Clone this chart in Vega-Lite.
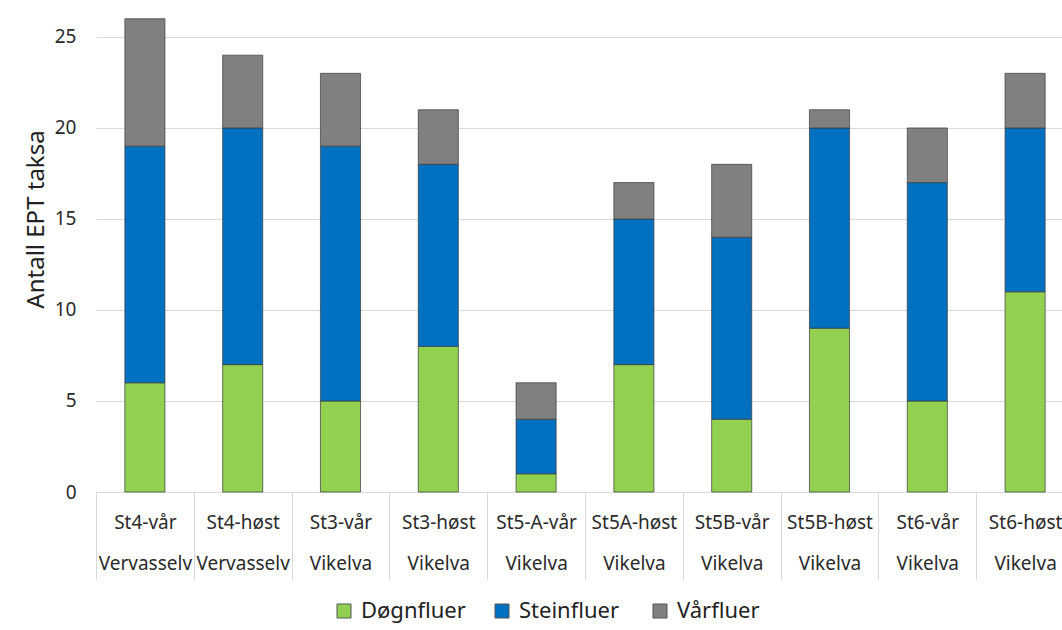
{
  "$schema": "https://vega.github.io/schema/vega-lite/v6.json",
  "autosize": "none",
  "width": 966,
  "height": 478,
  "padding": {"left": 96, "top": 14, "right": 0, "bottom": 138},
  "background": "white",
  "data": {
    "values": [
      {"cat": "St4-vår|Vervasselv", "idx": 1, "type": "Døgnfluer", "ord": 1, "value": 6},
      {"cat": "St4-vår|Vervasselv", "idx": 1, "type": "Steinfluer", "ord": 2, "value": 13},
      {"cat": "St4-vår|Vervasselv", "idx": 1, "type": "Vårfluer", "ord": 3, "value": 7},
      {"cat": "St4-høst|Vervasselv", "idx": 2, "type": "Døgnfluer", "ord": 1, "value": 7},
      {"cat": "St4-høst|Vervasselv", "idx": 2, "type": "Steinfluer", "ord": 2, "value": 13},
      {"cat": "St4-høst|Vervasselv", "idx": 2, "type": "Vårfluer", "ord": 3, "value": 4},
      {"cat": "St3-vår|Vikelva", "idx": 3, "type": "Døgnfluer", "ord": 1, "value": 5},
      {"cat": "St3-vår|Vikelva", "idx": 3, "type": "Steinfluer", "ord": 2, "value": 14},
      {"cat": "St3-vår|Vikelva", "idx": 3, "type": "Vårfluer", "ord": 3, "value": 4},
      {"cat": "St3-høst|Vikelva", "idx": 4, "type": "Døgnfluer", "ord": 1, "value": 8},
      {"cat": "St3-høst|Vikelva", "idx": 4, "type": "Steinfluer", "ord": 2, "value": 10},
      {"cat": "St3-høst|Vikelva", "idx": 4, "type": "Vårfluer", "ord": 3, "value": 3},
      {"cat": "St5-A-vår|Vikelva", "idx": 5, "type": "Døgnfluer", "ord": 1, "value": 1},
      {"cat": "St5-A-vår|Vikelva", "idx": 5, "type": "Steinfluer", "ord": 2, "value": 3},
      {"cat": "St5-A-vår|Vikelva", "idx": 5, "type": "Vårfluer", "ord": 3, "value": 2},
      {"cat": "St5A-høst|Vikelva", "idx": 6, "type": "Døgnfluer", "ord": 1, "value": 7},
      {"cat": "St5A-høst|Vikelva", "idx": 6, "type": "Steinfluer", "ord": 2, "value": 8},
      {"cat": "St5A-høst|Vikelva", "idx": 6, "type": "Vårfluer", "ord": 3, "value": 2},
      {"cat": "St5B-vår|Vikelva", "idx": 7, "type": "Døgnfluer", "ord": 1, "value": 4},
      {"cat": "St5B-vår|Vikelva", "idx": 7, "type": "Steinfluer", "ord": 2, "value": 10},
      {"cat": "St5B-vår|Vikelva", "idx": 7, "type": "Vårfluer", "ord": 3, "value": 4},
      {"cat": "St5B-høst|Vikelva", "idx": 8, "type": "Døgnfluer", "ord": 1, "value": 9},
      {"cat": "St5B-høst|Vikelva", "idx": 8, "type": "Steinfluer", "ord": 2, "value": 11},
      {"cat": "St5B-høst|Vikelva", "idx": 8, "type": "Vårfluer", "ord": 3, "value": 1},
      {"cat": "St6-vår|Vikelva", "idx": 9, "type": "Døgnfluer", "ord": 1, "value": 5},
      {"cat": "St6-vår|Vikelva", "idx": 9, "type": "Steinfluer", "ord": 2, "value": 12},
      {"cat": "St6-vår|Vikelva", "idx": 9, "type": "Vårfluer", "ord": 3, "value": 3},
      {"cat": "St6-høst|Vikelva", "idx": 10, "type": "Døgnfluer", "ord": 1, "value": 11},
      {"cat": "St6-høst|Vikelva", "idx": 10, "type": "Steinfluer", "ord": 2, "value": 9},
      {"cat": "St6-høst|Vikelva", "idx": 10, "type": "Vårfluer", "ord": 3, "value": 3}
    ]
  },
  "mark": {"type": "bar", "width": {"band": 0.41}, "stroke": "#3a3a3a", "strokeWidth": 1, "strokeOpacity": 0.7},
  "encoding": {
    "x": {
      "field": "cat",
      "type": "nominal",
      "sort": {"field": "idx"},
      "scale": {"paddingInner": 0, "paddingOuter": 0, "range": [0, 978]},
      "axis": {
        "title": null,
        "labelAngle": 0,
        "labelExpr": "split(datum.label, '|')",
        "labelLineHeight": 41,
        "labelFont": "Noto Sans",
        "labelFontSize": 19,
        "labelColor": "#2a2a2a",
        "labelBaseline": "top",
        "labelPadding": -67,
        "tickBand": "extent",
        "tickSize": 88,
        "tickColor": "#d9d9d9",
        "domainColor": "#d9d9d9",
        "grid": false,
        "labelOverlap": false,
        "labelBound": false
      }
    },
    "y": {
      "field": "value",
      "type": "quantitative",
      "stack": "zero",
      "scale": {"domain": [0, 26.26], "nice": false},
      "axis": {
        "title": "Antall EPT taksa",
        "titleFont": "Noto Sans",
        "titleFontSize": 24,
        "titleFontWeight": "normal",
        "titleColor": "#222222",
        "titleX": -60,
        "titleY": 205,
        "titleBaseline": "middle",
        "values": [0, 5, 10, 15, 20, 25],
        "labelFont": "Noto Sans",
        "labelFontSize": 19,
        "labelColor": "#2a2a2a",
        "labelPadding": 20,
        "ticks": false,
        "domain": false,
        "gridColor": "#d9d9d9"
      }
    },
    "color": {
      "field": "type",
      "type": "nominal",
      "scale": {"domain": ["Døgnfluer", "Steinfluer", "Vårfluer"], "range": ["#92d050", "#0070c0", "#808080"]},
      "legend": {
        "title": null,
        "orient": "none",
        "direction": "horizontal",
        "legendX": 237,
        "legendY": 586,
        "gridAlign": "all",
        "symbolType": "square",
        "symbolSize": 196,
        "symbolStrokeColor": "#555555",
        "symbolStrokeWidth": 1,
        "symbolOpacity": 1,
        "labelFont": "Noto Sans",
        "labelFontSize": 22,
        "labelColor": "#222222",
        "labelOffset": 6,
        "columnPadding": 25,
        "labelLimit": 300
      }
    },
    "order": {"field": "ord", "type": "quantitative"}
  },
  "config": {"view": {"stroke": null}}
}
